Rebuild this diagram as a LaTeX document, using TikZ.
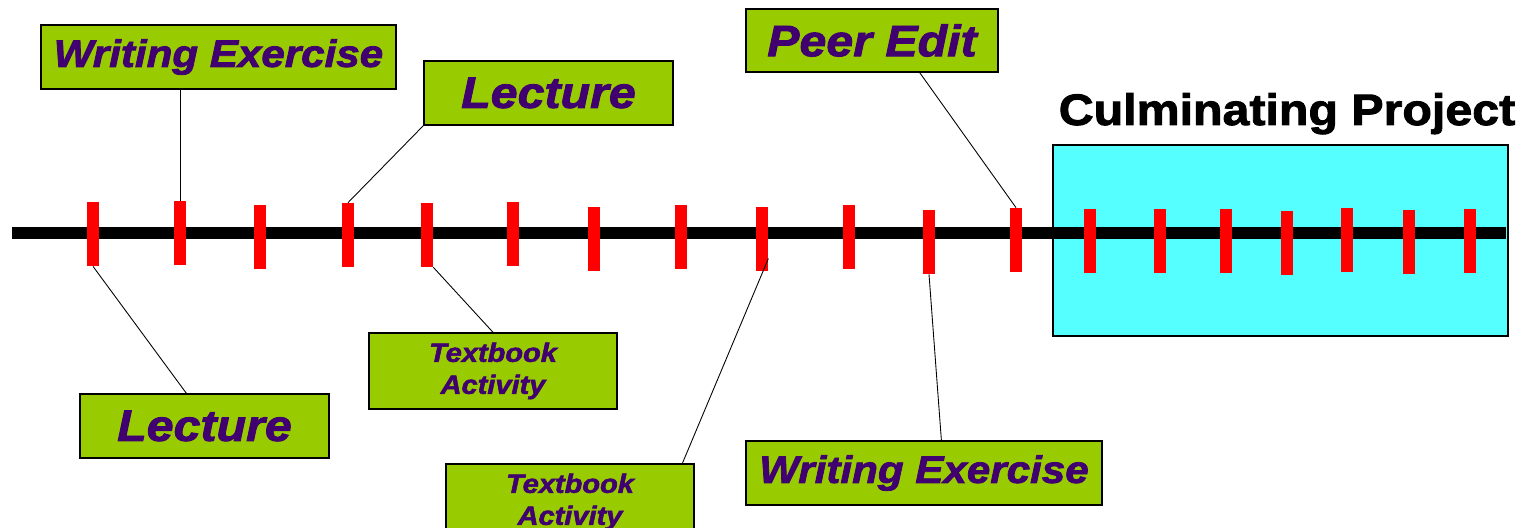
\documentclass[tikz,border=0pt]{standalone}
\usepackage{fontspec}
\newfontfamily\heavyfont[FakeStretch=1.1,FakeBold=2]{Liberation Sans}
\usepackage{tikz}
\definecolor{cardgreen}{RGB}{153,204,0}
\definecolor{cardtext}{RGB}{64,0,112}
\definecolor{projcyan}{RGB}{85,255,255}

\begin{document}
\begin{tikzpicture}[x=0.2mm, y=-0.2mm]
\tikzstyle{tick}=[fill=red, minimum width=2.4mm, minimum height=12.8mm, inner sep=0pt]
\tikzstyle{card}=[draw, line width=0.8pt, fill=cardgreen, text=cardtext, inner sep=0pt, align=center]
\tikzstyle{bigtext}=[font=\heavyfont\bfseries\itshape\fontsize{25}{30}\selectfont]
\tikzstyle{midtext}=[font=\heavyfont\bfseries\itshape\fontsize{21.8}{26}\selectfont]
\tikzstyle{smalltext}=[font=\heavyfont\bfseries\itshape\fontsize{15}{18.2}\selectfont]
\tikzstyle{link}=[line width=0.5pt]

\useasboundingbox (0,0) rectangle (1523,528);

\node[draw, line width=0.6pt, fill=projcyan, minimum width=91mm, minimum height=38.2mm, inner sep=0pt] (proj) at (1280.5,240.5) {};
\node[anchor=base, font=\heavyfont\bfseries\fontsize{25}{30}\selectfont] (projtitle) at (1287,125) {Culminating Project};

\draw[line width=2.4mm] (12,233) -- (1506,233);

\node[tick] (t1) at (93,234) {};
\node[tick] (t2) at (180,233) {};
\node[tick] (t3) at (260,237) {};
\node[tick] (t4) at (348,235) {};
\node[tick] (t5) at (427,235) {};
\node[tick] (t6) at (513,234) {};
\node[tick] (t7) at (594,239) {};
\node[tick] (t8) at (681,237) {};
\node[tick] (t9) at (762,239) {};
\node[tick] (t10) at (849,237) {};
\node[tick] (t11) at (929,242) {};
\node[tick] (t12) at (1016,240) {};
\node[tick] (t13) at (1090,241) {};
\node[tick] (t14) at (1160,241) {};
\node[tick] (t15) at (1226,241) {};
\node[tick] (t16) at (1287,243) {};
\node[tick] (t17) at (1347,240) {};
\node[tick] (t18) at (1409,242) {};
\node[tick] (t19) at (1470,241) {};

\node[card, midtext, minimum width=71mm, minimum height=12.8mm] (we1) at (218.5,57) {Writing Exercise};
\node[card, bigtext, minimum width=49.8mm, minimum height=12.8mm] (lec1) at (548.5,93) {Lecture};
\node[card, bigtext, minimum width=50.4mm, minimum height=12.6mm] (pe) at (872,40.5) {Peer Edit};
\node[card, bigtext, minimum width=49.8mm, minimum height=12.8mm] (lec2) at (204.5,426) {Lecture};
\node[card, smalltext, minimum width=49.6mm, minimum height=15.2mm] (tb1) at (493,371) {Textbook\\Activity};
\node[card, smalltext, minimum width=49.6mm, minimum height=15.2mm] (tb2) at (570,502) {Textbook\\Activity};
\node[card, midtext, minimum width=71.2mm, minimum height=12.8mm] (we2) at (924,473) {Writing Exercise};

\draw[link] (t2.north) -- (t2.north |- we1.south);
\draw[link] (t4.north) -- (lec1.south west);
\draw[link] (t12.north) -- (pe.-34);
\draw[link] (t1.south) -- (lec2.119);
\draw[link] (t5.south east) -- (tb1.north);
\draw[link] (t9.-72) -- (tb2.19);
\draw[link] (t11.south) -- (we2.62);

\end{tikzpicture}
\end{document}
